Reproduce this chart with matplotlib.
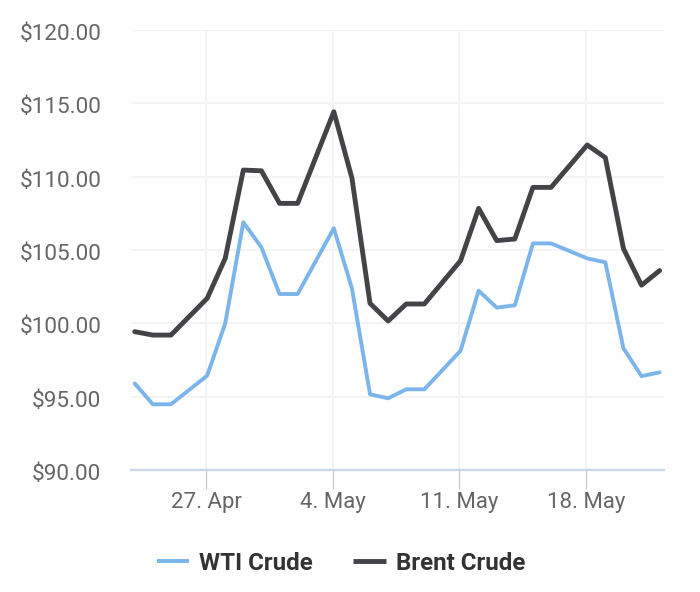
import datetime as dt

import matplotlib
matplotlib.use("Agg")
import matplotlib.dates as mdates
import matplotlib.pyplot as plt
from matplotlib.transforms import ScaledTranslation

plt.rcParams["font.family"] = ["Roboto", "DejaVu Sans"]

# trading-ish days, gaps are real (line runs straight across them)
day_labels = [
    "04-23", "04-24", "04-25", "04-27", "04-28", "04-29", "04-30", "05-01", "05-02",
    "05-04", "05-05", "05-06", "05-07", "05-08", "05-09",
    "05-11", "05-12", "05-13", "05-14", "05-15", "05-16",
    "05-18", "05-19", "05-20", "05-21", "05-22",
]
wti = [
    95.90, 94.48, 94.48, 96.43, 100.00, 106.89, 105.18, 102.00, 102.00,
    106.48, 102.38, 95.16, 94.89, 95.50, 95.50,
    98.13, 102.23, 101.07, 101.23, 105.45, 105.45,
    104.43, 104.16, 98.30, 96.40, 96.66,
]
brent = [
    99.43, 99.20, 99.20, 101.70, 104.43, 110.45, 110.40, 108.18, 108.18,
    114.43, 109.90, 101.36, 100.16, 101.32, 101.32,
    104.27, 107.84, 105.64, 105.75, 109.27, 109.27,
    112.16, 111.30, 105.10, 102.60, 103.60,
]
y_ticks = [90, 95, 100, 105, 110, 115, 120]
x_ticks = ["04-27", "05-04", "05-11", "05-18"]
x_tick_labels = ["27. Apr", "4. May", "11. May", "18. May"]


def to_date(s):
    return dt.datetime.strptime("2022-" + s, "%Y-%m-%d")


# points sit slightly right of the midnight ticks in the source
dates = [to_date(s) + dt.timedelta(hours=1.5) for s in day_labels]

W, H = 700, 592
fig = plt.figure(figsize=(W / 100, H / 100), dpi=100)
left, right, top, bottom = 131, 664, 30, 470
ax = fig.add_axes([left / W, 1 - bottom / H, (right - left) / W, (bottom - top) / H])

line_style = dict(solid_joinstyle="round", solid_capstyle="round", clip_on=False, zorder=3)
ax.plot(dates, wti, color="#7cb5ec", lw=2.8, label="WTI Crude", **line_style)
ax.plot(dates, brent, color="#434348", lw=3.5, label="Brent Crude", **line_style)

# 18.1 px per day, tick at 206 px for 27 Apr
ax.set_xlim(
    mdates.date2num(to_date("04-27")) - (206 - left) / 18.1,
    mdates.date2num(to_date("04-27")) + (right - 206) / 18.1,
)
ax.set_ylim(90, 120)

ax.set_yticks(y_ticks)
ax.set_yticklabels([f"${v:.2f}" for v in y_ticks])
ax.set_xticks([to_date(s) for s in x_ticks])
ax.set_xticklabels(x_tick_labels)

ax.grid(True, color="#f4f4f6", lw=1.5, zorder=0)
ax.set_axisbelow(True)
for side in ["top", "left", "right"]:
    ax.spines[side].set_visible(False)
ax.spines["bottom"].set_color("#ccd6eb")
ax.spines["bottom"].set_linewidth(1.6)

ax.tick_params(axis="y", length=0, pad=21.5, labelsize=16.2, labelcolor="#666666")
ax.tick_params(axis="x", length=14, width=0.9, color="#c8c8c8", pad=1.5, labelsize=16, labelcolor="#666666")
# y labels sit a touch below their gridlines
label_shift = ScaledTranslation(0, -1.5 / 72, fig.dpi_scale_trans)
for lab in ax.get_yticklabels():
    lab.set_transform(lab.get_transform() + label_shift)

leg = fig.legend(
    *ax.get_legend_handles_labels(),
    loc="center",
    bbox_to_anchor=(341 / W, 1 - 563 / H),
    ncol=2,
    frameon=False,
    handlelength=1.35,
    handletextpad=0.42,
    columnspacing=1.66,
    prop={"size": 17.4, "weight": "bold"},
    labelcolor="#333333",
)
for h in leg.get_lines():
    h.set_solid_capstyle("butt")

fig.savefig("out.png", dpi=100)
